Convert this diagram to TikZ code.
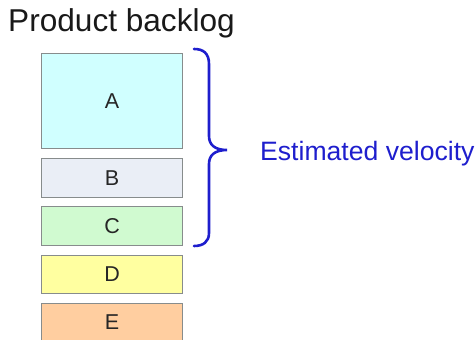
\documentclass[tikz,border=0pt]{standalone}
\usepackage{fontspec}
\setmainfont{Liberation Sans}
\definecolor{boxgray}{RGB}{135,140,140}
\definecolor{fillA}{RGB}{208,255,255}
\definecolor{fillB}{RGB}{234,238,246}
\definecolor{fillC}{RGB}{208,250,208}
\definecolor{fillD}{RGB}{255,255,160}
\definecolor{fillE}{RGB}{255,206,160}
\definecolor{braceblue}{RGB}{30,30,205}
\begin{document}
\begin{tikzpicture}[x=1pt,y=-1pt,
  item/.style={draw=boxgray,line width=1.2pt,minimum width=141pt,inner sep=0pt,anchor=north west,
    font=\fontsize{21.5}{24}\selectfont,text=black!85}]
\useasboundingbox (0,0) rectangle (475,340);
\node[anchor=base west,inner sep=0pt,font=\fontsize{31.6}{35}\selectfont,text=black!90] (title) at (8,31) {Product backlog};
\node[item,fill=fillA,minimum height=95pt] (A) at (41,53) {A};
\node[item,fill=fillB,minimum height=39pt] (B) at (41,158) {B};
\node[item,fill=fillC,minimum height=39pt] (C) at (41,206) {C};
\node[item,fill=fillD,minimum height=38pt] (D) at (41,255) {D};
\node[item,fill=fillE,minimum height=38pt] (E) at (41,303) {E};
\draw[braceblue,line width=2.6pt,line cap=round]
  (194,49) .. controls (203,49) and (209,53) .. (209,64)
  -- (209,136) .. controls (209,145) and (215,150) .. (227,150)
  .. controls (215,150) and (209,155) .. (209,164)
  -- (209,233) .. controls (209,242) and (203,246) .. (194,246);
\node[anchor=base west,inner sep=0pt,font=\fontsize{26.6}{30}\selectfont,text=braceblue] (vel) at (260,160) {Estimated velocity};
\end{tikzpicture}
\end{document}
